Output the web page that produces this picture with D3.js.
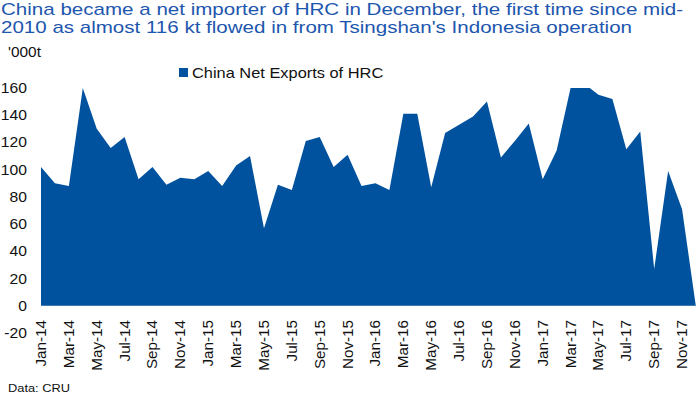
<!DOCTYPE html>
<html>
<head>
<meta charset="utf-8">
<script src="https://cdn.jsdelivr.net/npm/d3@7"></script>
<style>
  body { margin: 0; background: #fff; }
  text { font-family: "Liberation Sans", Arial, sans-serif; }
</style>
</head>
<body>
<svg width="698" height="395"></svg>
<script>
// months Jan-14 .. Dec-17
const months = ["Jan-14","Feb-14","Mar-14","Apr-14","May-14","Jun-14","Jul-14","Aug-14","Sep-14","Oct-14","Nov-14","Dec-14",
  "Jan-15","Feb-15","Mar-15","Apr-15","May-15","Jun-15","Jul-15","Aug-15","Sep-15","Oct-15","Nov-15","Dec-15",
  "Jan-16","Feb-16","Mar-16","Apr-16","May-16","Jun-16","Jul-16","Aug-16","Sep-16","Oct-16","Nov-16","Dec-16",
  "Jan-17","Feb-17","Mar-17","Apr-17","May-17","Jun-17","Jul-17","Aug-17","Sep-17","Oct-17","Nov-17","Dec-17"];

// China net exports of HRC, '000t
const netExports = [102, 90, 88, 160, 130, 116, 124, 93, 102, 89, 94, 93,
  99, 88, 103, 110, 57, 89, 85, 121, 124, 102, 111, 88,
  90, 85, 141, 141, 87, 127, 133, 139, 150, 109, 121, 134,
  93, 114, 160, 163, 155, 152, 115, 128, 27, 99, 71, -1];

const yTicks = [-20, 0, 20, 40, 60, 80, 100, 120, 140, 160];

const titleLines = ["China became a net importer of HRC in December, the first time since mid-",
  "2010 as almost 116 kt flowed in from Tsingshan's Indonesia operation"];

const svg = d3.select("svg");
const m = { left: 41, right: 696, top: 88, bottom: 333 };

const x = d3.scalePoint().domain(months).range([m.left, m.right]);
const y = d3.scaleLinear().domain([-20, 160]).range([m.bottom, m.top]);

// la fuente del original es algo mas ancha: se estira el texto
function stretch(sel, k) {
  sel.each(function() {
    const w = this.getComputedTextLength();
    d3.select(this).attr("textLength", w * k).attr("lengthAdjust", "spacingAndGlyphs");
  });
}

// titulo
svg.append("g").selectAll("text")
  .data(titleLines)
  .enter().append("text")
  .attr("x", 1)
  .attr("y", (d, i) => 14.5 + i * 18)
  .attr("textLength", (d, i) => i === 0 ? 682 : 631)
  .attr("lengthAdjust", "spacingAndGlyphs")
  .style("font-size", "17px")
  .style("fill", "#1d56ae")
  .text(d => d);

svg.append("text").attr("x", 8).attr("y", 57)
  .style("font-size", "14px").style("fill", "#111")
  .text("'000t")
  .call(stretch, 1.1);

// leyenda
svg.append("rect").attr("x", 179).attr("y", 68).attr("width", 9).attr("height", 9)
  .style("fill", "#00529e");
svg.append("text").attr("x", 192).attr("y", 78)
  .style("font-size", "14.5px").style("fill", "#111")
  .text("China Net Exports of HRC")
  .call(stretch, 1.13);

// area
svg.append("clipPath").attr("id", "clip")
  .append("rect").attr("x", m.left).attr("y", m.top).attr("width", m.right - m.left + 1).attr("height", m.bottom - m.top);

const area = d3.area()
  .x((d, i) => x(months[i]))
  .y0(y(0))
  .y1(d => y(d));

svg.append("path")
  .datum(netExports)
  .attr("clip-path", "url(#clip)")
  .attr("d", area)
  .style("fill", "#00529e");

// eje y
svg.append("g").selectAll("text")
  .data(yTicks)
  .enter().append("text")
  .attr("x", 27)
  .attr("y", d => y(d) + 5)
  .attr("text-anchor", "end")
  .style("font-size", "14.5px").style("fill", "#111")
  .text(d => d)
  .call(stretch, 1.08);

// eje x, cada dos meses
svg.append("g").selectAll("text")
  .data(months.filter((d, i) => i % 2 === 0))
  .enter().append("text")
  .attr("transform", d => "translate(" + (x(d) + 5) + ",320) rotate(-90)")
  .attr("text-anchor", "end")
  .style("font-size", "14.5px").style("fill", "#111")
  .text(d => d)
  .call(stretch, 1.05);

svg.append("text").attr("x", 8).attr("y", 392)
  .style("font-size", "11px").style("fill", "#111")
  .text("Data: CRU")
  .attr("textLength", 62).attr("lengthAdjust", "spacingAndGlyphs");
</script>
</body>
</html>
